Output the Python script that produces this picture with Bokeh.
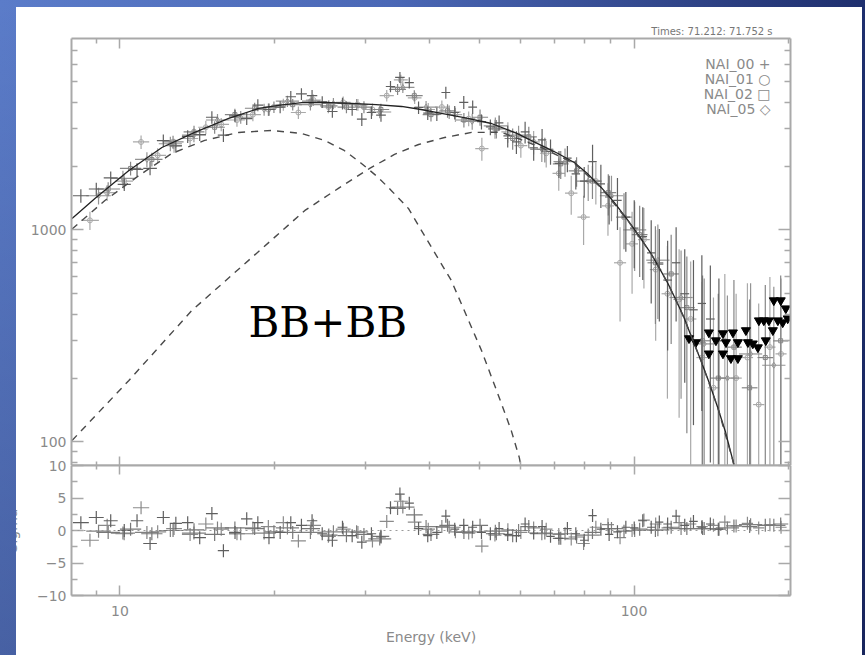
import numpy as np
from bokeh.plotting import figure
from bokeh.models import (Range1d, FixedTicker, LogAxis, LinearAxis, Label, Span,
                          NumeralTickFormatter, CustomJSTickFormatter)
from bokeh.layouts import column
from bokeh.embed import file_html
from bokeh.resources import INLINE

# ---------------- data ----------------
# axis ticks
X_MAJOR = [10, 100]
X_MINOR = [8, 9, 20, 30, 40, 50, 60, 70, 80, 90, 200]
Y_MAJOR = [100, 1000]
Y_MINOR = [80, 90, 200, 300, 400, 500, 600, 700, 800, 900,
           2000, 3000, 4000, 5000, 6000, 7000]
R_MAJOR = [-10, -5, 0, 5, 10]
R_MINOR = [-7.5, -2.5, 2.5, 7.5]

# NAI_00 (crosses)
a_edges = [8.1, 8.7, 9.3, 9.9, 10.5, 11.1, 11.8, 12.5, 13.2, 13.9,
           14.7, 15.5, 16.3, 17.2, 18.1, 19.0, 20.0, 21.0, 22.0, 23.1,
           24.2, 25.3, 26.5, 27.7, 28.9, 30.2, 31.5, 32.9, 34.3, 35.8,
           37.3, 38.9, 40.5, 42.2, 43.9, 45.7, 47.6, 49.5, 51.5, 53.6,
           55.7, 57.9, 60.2, 62.6, 65.0, 67.5, 70.1, 72.8, 75.6, 78.5,
           81.5, 84.6, 87.8, 91.1, 94.6, 98.2, 102, 106, 110, 114,
           118.5, 123, 128, 133, 138, 143.5, 149]
a_counts = [1450, 1560, 1760, 1640, 1930, 1950, 2640, 2490, 2760, 2820,
            3400, 2800, 3450, 3350, 3880, 3700, 3800, 4250, 4380, 4300,
            4020, 3620, 3950, 3700, 3330, 3580, 3480, 4750, 5250, 4950,
            3780, 3560, 3520, 4450, 3580, 4000, 3800, 3240, 3060, 3200,
            2780, 2600, 2900, 2440, 2660, 2350, 2060, 2180, 1840, 1700,
            2100, 1650, 1430, 1380, 1150, 1020, 930, 780, 690, 580,
            700, 500, 420, 450, 380, 300]
a_err = [105, 110, 125, 115, 135, 140, 180, 175, 190, 195,
         230, 200, 230, 225, 250, 245, 250, 270, 275, 270,
         255, 240, 250, 245, 235, 245, 240, 290, 310, 300,
         260, 255, 255, 290, 265, 280, 275, 265, 260, 265,
         330, 320, 340, 320, 335, 320, 300, 310, 290, 280,
         420, 380, 370, 380, 360, 360, 350, 330, 320, 310,
         330, 310, 300, 310, 300, 290]
a_sigma = [1.2, 2.0, 1.5, 0.0, 1.5, -2.0, 2.0, 1.1, 1.2, -1.1,
           2.6, -3.1, -0.3, 1.8, 1.2, -1.1, -0.3, 1.2, 0.8, 1.5,
           -0.5, -1.5, 0.5, -0.8, -1.8, -0.5, -1.0, 3.5, 5.6, 4.2,
           0.3, -0.8, -0.3, 2.2, 0.2, 0.8, 0.5, -0.3, -0.5, 0.3,
           -0.6, -0.8, 1.0, -0.4, 0.6, -0.9, -1.2, 0.3, -0.5, -1.5,
           2.3, 0.2, -0.6, -0.2, 0.5, 0.4, 1.5, 0.5, 1.3, 1.0,
           2.2, 0.8, 1.4, 0.5, 1.0, 0.2]

# NAI_01 (circles)
b_edges = [8.4, 9.1, 9.8, 10.6, 11.4, 12.3, 13.2, 14.2, 15.2, 16.3,
           17.5, 18.8, 20.1, 21.5, 23.0, 24.6, 26.3, 28.1, 30.0, 32.0,
           34.1, 36.3, 38.6, 41.0, 43.6, 46.3, 49.1, 52.1, 55.2, 58.5,
           62.0, 65.6, 69.4, 73.4, 77.6, 82.0, 86.6, 91.4, 96.5, 101.8,
           107.3, 113.1, 119.2, 125.6, 132.2, 139.1, 146.4, 154.0, 162.0, 170.4,
           179.2, 188.4, 198.0]
b_counts = [1110, 1500, 1700, 2600, 2250, 2500, 2700, 3050, 3150, 3300,
            3500, 3700, 3900, 3580, 4100, 3800, 4000, 3900, 3700, 4300,
            5100, 4200, 3700, 3800, 3500, 3350, 2420, 3000, 2900, 2500,
            2600, 2300, 1850, 1490, 1150, 1700, 1300, 700, 860, 900,
            650, 500, 470, 380, 250, 180, 300, 200, 250, 150, 280, 260]
b_err = [110, 130, 140, 190, 180, 190, 200, 220, 225, 230,
         240, 250, 255, 245, 260, 250, 255, 250, 245, 270,
         300, 270, 265, 275, 270, 270, 300, 310, 320, 310,
         330, 330, 320, 310, 300, 380, 360, 330, 360, 370,
         350, 340, 340, 330, 320, 300, 320, 300, 310, 300, 320, 330]
b_sigma = [-1.5, 0.8, -0.5, 3.5, -0.2, 0.3, -0.6, 1.0, 0.2, -0.5,
           0.4, 0.6, 1.2, -1.6, 0.8, -0.9, 0.2, -0.3, -1.6, 1.4,
           4.5, 1.3, 0.2, 0.6, -0.2, -0.4, -2.4, -0.7, 0.1, -0.3,
           0.4, 0.2, -0.6, -1.3, -2.0, 0.5, 0.9, -1.1, 0.0, 1.6,
           1.0, 0.4, 1.2, 1.0, 0.6, 0.8, 1.3, 0.7, 1.1, 0.4, 0.9, 0.5]

# NAI_02 (squares)
c_edges = [9.0, 10.0, 11.0, 12.1, 13.3, 14.6, 16.0, 17.5, 19.1, 20.8,
           22.6, 24.5, 26.5, 28.7, 31.0, 33.4, 36.0, 38.8, 41.8, 45.0,
           48.4, 52.0, 56.0, 60.2, 64.7, 69.5, 74.6, 80.1, 86.0, 92.3,
           99.0, 106.2, 114.0, 122.3, 131.2, 140.8, 151.0, 162.0, 173.8, 186.4,
           199.5]
c_counts = [1560, 1950, 2150, 2600, 2900, 3050, 3500, 3750, 3800, 3900,
            4050, 3850, 3800, 3800, 3700, 4600, 4300, 3500, 3650, 3300,
            3400, 3000, 2700, 2750, 2400, 2050, 1900, 1700, 1500, 1150,
            950, 700, 620, 430, 300, 200, 280, 180, 250, 300]
c_err = [120, 145, 160, 185, 200, 210, 225, 235, 240, 245,
         250, 245, 245, 245, 240, 275, 265, 255, 265, 260,
         300, 300, 310, 320, 320, 310, 300, 300, 330, 340,
         350, 340, 330, 320, 310, 300, 300, 290, 300, 310]
c_sigma = [-0.3, 0.2, -0.5, 0.0, 0.1, -0.6, 0.4, 0.3, -0.2, -0.3,
           0.3, -0.7, -0.8, -0.6, -0.9, 3.4, 2.4, -0.6, 0.8, -0.3,
           0.8, -0.5, -0.8, 0.6, -0.4, -1.2, -1.0, -0.3, 0.3, -0.1,
           0.2, 0.0, 0.5, 0.3, 0.3, 0.2, 0.7, 0.6, 0.8, 1.0]

# NAI_05 (diamonds)
d_edges = [8.6, 9.6, 10.7, 11.9, 13.2, 14.7, 16.3, 18.1, 20.1, 22.3,
           24.7, 27.4, 30.4, 33.7, 37.4, 41.5, 46.0, 51.0, 56.6, 62.8,
           69.7, 77.3, 85.8, 95.2, 105.6, 117.2, 130.0, 144.2, 160.0, 177.5,
           197.0]
d_counts = [1450, 1750, 2150, 2550, 2800, 3300, 3400, 3700, 4050, 3900,
            3950, 3900, 3600, 4700, 3800, 3600, 3250, 3100, 2800, 2400,
            2100, 1700, 1450, 1000, 720, 480, 290, 200, 260, 230]
d_err = [130, 150, 175, 200, 210, 225, 235, 240, 250, 245,
         245, 245, 240, 280, 260, 265, 280, 290, 300, 310,
         320, 330, 350, 360, 340, 320, 300, 290, 300, 310]
d_sigma = [-0.1, -0.4, -0.3, 0.0, -0.4, 0.4, -0.5, -0.4, 0.4, -0.3,
           -0.2, -0.2, -1.3, 3.6, 0.6, 0.5, -0.2, -0.1, 0.0, -0.5,
           -0.5, -0.7, 0.3, 0.0, 0.1, 0.3, 0.3, 0.4, 0.9, 0.8]

# upper limits (filled triangles)
ul_e = [127.9, 131.9, 139.8, 139.8, 144.3, 148.9, 148.9, 150.9, 154.3, 155.7,
        159.2, 159.2, 165.0, 166.5, 170.2, 174.1, 174.9, 178.8, 180.4, 182.9,
        186.2, 187.0, 190.4, 192.9, 194.6, 197.3, 199.0]
ul_c = [308, 295, 328, 261, 301, 325, 261, 295, 248, 328,
        295, 248, 336, 295, 291, 279, 374, 374, 301, 374,
        336, 465, 374, 465, 366, 426, 382]

# model curves
model_e = [8.07, 8.94, 10.41, 12.07, 13.98, 16.28, 18.62, 20.5, 22.57, 25.0,
           28.2, 31.5, 35.3, 38.5, 42.2, 47.0, 52.8, 59.0, 66.0, 71.0,
           76.5, 81.0, 86.3, 91.5, 97.3, 102.5, 107.9, 112.0, 116.4, 120.5,
           125.0, 129.5, 134.9, 140.0, 145.5, 150.5, 155.6, 158.0]
model_total = [1133, 1408, 1909, 2449, 2884, 3357, 3741, 3880, 3990, 3995,
               3953, 3900, 3823, 3700, 3544, 3380, 3178, 2860, 2504, 2300,
               2080, 1850, 1587, 1350, 1109, 930, 774, 660, 559, 470,
               387, 310, 242, 190, 145, 112, 82, 70]
bb1_e = [8.07, 9.35, 10.89, 12.62, 14.62, 17.02, 19.73, 22.57, 25.0, 27.3,
         29.5, 31.8, 33.7, 36.4, 39.1, 44.1, 50.5, 55.2, 57.7, 59.8, 60.5]
bb1_c = [1010, 1377, 1807, 2296, 2644, 2884, 2946, 2851, 2644, 2371,
         2059, 1768, 1536, 1263, 942, 578, 270, 152, 113, 84.5, 73]
bb2_e = [8.07, 10.41, 13.8, 18.05, 22.9, 26.6, 30.6, 34.2, 38.1, 42.8,
         48.3, 55.2, 66.0, 76.5, 86.3, 97.3, 107.9, 116.4, 125.0, 134.9,
         145.5, 155.6, 158.0]
bb2_c = [101.6, 195, 417, 741, 1236, 1571, 1950, 2270, 2530, 2729,
         2884, 2890, 2450, 2060, 1580, 1105, 772, 558, 386, 242,
         145, 82, 70]

legend_labels = ["NAI_00 +", "NAI_01 \u25cb", "NAI_02 \u25a1", "NAI_05 \u25c7"]
time_text = "Times: 71.212: 71.752 s"
model_name = "BB+BB"
x_label = "Energy (keV)"
res_label = "Sigma"

# ---------------- styling ----------------
AX = "#a9a9a9"
TXT = "#8a8a8a"
FONT = "DejaVu Sans"
X_RANGE = (8.05, 201.5)
Y_RANGE = (77.4, 8000)
CLIP = {"clip-path": "inset(0px 0px 0px 16px)"}
PAGE_BG = ("linear-gradient(#ffffff, #ffffff) 16px 7px / 846px 648px no-repeat, "
           "linear-gradient(to bottom, rgba(0,0,30,0) 0%, rgba(0,0,30,0.22) 100%), "
           "linear-gradient(to right, #5b7cc9 0%, #4b68b6 45%, #2b3e80 85%, #1e2f6e 100%)")

BLANK = CustomJSTickFormatter(code="return ' ';")


def style_axis(ax, major_in, minor_in, show_labels, standoff=6):
    ax.axis_line_color = AX
    ax.axis_line_width = 2
    ax.major_tick_line_color = AX
    ax.minor_tick_line_color = AX
    ax.major_tick_line_width = 1.5
    ax.minor_tick_line_width = 1.5
    ax.major_tick_in = major_in
    ax.major_tick_out = 0
    ax.minor_tick_in = minor_in
    ax.minor_tick_out = 0
    ax.major_label_text_font = FONT
    ax.major_label_text_color = TXT
    if show_labels:
        ax.major_label_text_font_size = "14px"
        ax.major_label_standoff = standoff
    else:
        ax.major_label_text_font_size = "1px"
        ax.major_label_text_alpha = 0.0
        ax.major_label_standoff = 0
        ax.formatter = BLANK


common = dict(output_backend="svg", toolbar_location=None,
              min_border_left=70, min_border_right=72,
              background_fill_color="white", outline_line_color=None,
              border_fill_color=None, border_fill_alpha=0.0, styles=CLIP)

top = figure(width=862, height=458, x_axis_type="log", y_axis_type="log",
             x_range=Range1d(*X_RANGE), y_range=Range1d(*Y_RANGE),
             min_border_top=31, min_border_bottom=0, margin=(7, 3, 0, 0),
             **common)
top.grid.visible = False
top.title.text = time_text
top.title.align = "right"
top.title.offset = 18
top.title.standoff = 3
top.title.text_font = FONT
top.title.text_font_size = "10px"
top.title.text_font_style = "normal"
top.title.text_color = "#777777"

xt = FixedTicker(ticks=X_MAJOR, minor_ticks=X_MINOR)
yt = FixedTicker(ticks=Y_MAJOR, minor_ticks=Y_MINOR)
top.xaxis.ticker = xt
top.yaxis.ticker = yt
top.yaxis.formatter = NumeralTickFormatter(format="0")
style_axis(top.yaxis[0], 12, 6, True, 5)
style_axis(top.xaxis[0], 9, 4, False)
ax_top = LogAxis(ticker=xt)
style_axis(ax_top, 10, 5, False)
top.add_layout(ax_top, "above")
ax_right = LogAxis(ticker=yt)
style_axis(ax_right, 12, 6, False)
top.add_layout(ax_right, "right")


def draw_det(p, edges, counts, err, color, marker=None, msize=5):
    e = np.array(edges, float)
    lo, hi = e[:-1], e[1:]
    ctr = np.sqrt(lo * hi)
    c = np.array(counts, float)
    s = np.array(err, float)
    ylo = np.where(c - s > 0, c - s, 1.0)
    p.segment(lo, c, hi, c, line_color=color, line_width=1.2)
    p.segment(ctr, ylo, ctr, c + s, line_color=color, line_width=1.2)
    if marker:
        p.scatter(ctr, c, marker=marker, size=msize, fill_color="white",
                  fill_alpha=0.0, line_color=color, line_width=1.0)


def draw_res(p, edges, sig, color):
    e = np.array(edges, float)
    lo, hi = e[:-1], e[1:]
    ctr = np.sqrt(lo * hi)
    r = np.array(sig, float)
    p.segment(lo, r, hi, r, line_color=color, line_width=1.2)
    p.segment(ctr, r - 1, ctr, r + 1, line_color=color, line_width=1.2)


draw_det(top, b_edges, b_counts, b_err, "#a9a9a9", "circle", 5)
draw_det(top, d_edges, d_counts, d_err, "#939393", "diamond", 6)
draw_det(top, c_edges, c_counts, c_err, "#858585", "square", 4)
draw_det(top, a_edges, a_counts, a_err, "#5f5f5f")
top.scatter(ul_e, ul_c, marker="inverted_triangle", size=9,
            fill_color="black", line_color="black")

top.line(model_e, model_total, line_color="#222222", line_width=1.3)
top.line(bb1_e, bb1_c, line_color="#4a4a4a", line_width=1.4, line_dash="7 6")
top.line(bb2_e, bb2_c, line_color="#4a4a4a", line_width=1.4, line_dash="7 6")

legend_y = [402, 387, 372, 357]
for txt, yy in zip(legend_labels, legend_y):
    top.add_layout(Label(x=699, y=yy, x_units="screen", y_units="screen", text=txt,
                         text_align="right", text_baseline="middle",
                         text_font=FONT, text_font_size="14px", text_color=TXT))
top.add_layout(Label(x=177, y=143, x_units="screen", y_units="screen", text=model_name,
                     text_align="left", text_baseline="middle",
                     text_font="DejaVu Serif", text_font_size="42px", text_color="black"))

# ---------------- residual panel ----------------
bot = figure(width=862, height=202, x_axis_type="log",
             x_range=top.x_range, y_range=Range1d(-10, 10),
             min_border_top=12, min_border_bottom=60, margin=(-12, 3, 0, 0),
             **common)
bot.grid.visible = False
bot.xaxis.ticker = xt
bot.xaxis.formatter = NumeralTickFormatter(format="0")
rt = FixedTicker(ticks=R_MAJOR, minor_ticks=R_MINOR)
bot.yaxis.ticker = rt
bot.yaxis.formatter = CustomJSTickFormatter(
    code="return tick < 0 ? '\u2212' + Math.abs(tick) : String(tick);")
style_axis(bot.xaxis[0], 10, 5, True, 10)
style_axis(bot.yaxis[0], 12, 6, True, 5)
bot.xaxis.axis_label = x_label
bot.xaxis.axis_label_text_font = FONT
bot.xaxis.axis_label_text_font_size = "14px"
bot.xaxis.axis_label_text_font_style = "normal"
bot.xaxis.axis_label_text_color = TXT
bot.xaxis.axis_label_standoff = 10
bot.yaxis.axis_label = res_label
bot.yaxis.axis_label_text_font = FONT
bot.yaxis.axis_label_text_font_size = "14px"
bot.yaxis.axis_label_text_font_style = "normal"
bot.yaxis.axis_label_text_color = TXT
bot.yaxis.axis_label_standoff = 14
bax_top = LogAxis(ticker=xt)
style_axis(bax_top, 9, 4, False)
bot.add_layout(bax_top, "above")
bax_right = LinearAxis(ticker=rt)
style_axis(bax_right, 12, 6, False)
bot.add_layout(bax_right, "right")

bot.add_layout(Span(location=0, dimension="width", line_color="#9a9a9a",
                    line_dash="dotted", line_width=1))
draw_res(bot, b_edges, b_sigma, "#8a8a8a")
draw_res(bot, d_edges, d_sigma, "#808080")
draw_res(bot, c_edges, c_sigma, "#777777")
draw_res(bot, a_edges, a_sigma, "#5f5f5f")

layout = column(top, bot, styles={"background": PAGE_BG})

open("out.html", "w").write(file_html(layout, INLINE))
